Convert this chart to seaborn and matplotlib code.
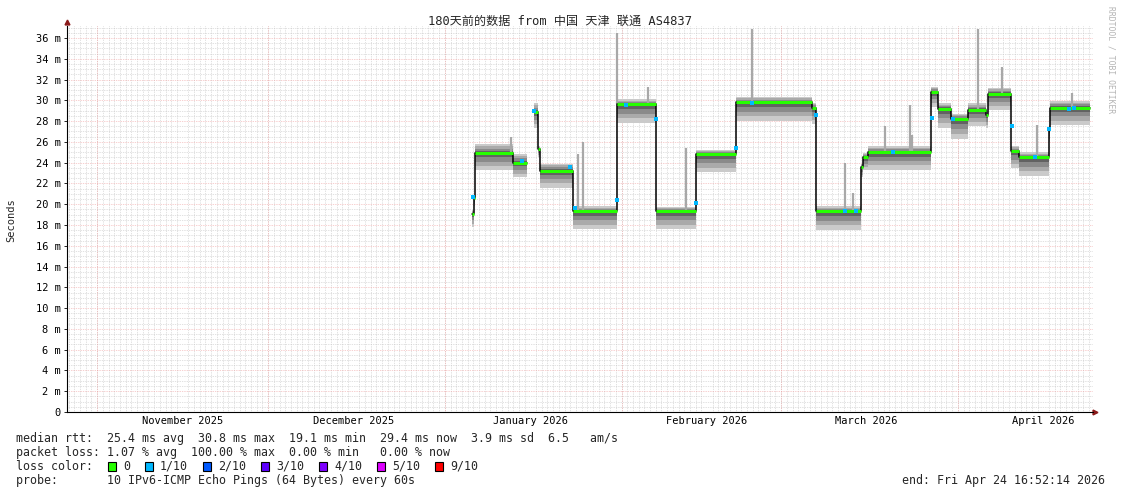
import pandas as pd
import seaborn as sns
import matplotlib.pyplot as plt
import matplotlib.dates as mdates
from matplotlib.ticker import MultipleLocator, FixedLocator
from matplotlib.patches import Rectangle

# ---- data ----
t_start = pd.Timestamp("2025-10-26 16:52:14")
t_end = pd.Timestamp("2026-04-24 16:52:14")

seg_start = pd.to_datetime([
    "2026-01-05 18:00", "2026-01-06 02:30", "2026-01-06 06:40", "2026-01-12 22:50",
    "2026-01-16 15:00", "2026-01-17 10:00", "2026-01-17 16:20", "2026-01-23 11:20",
    "2026-01-31 04:30", "2026-02-07 01:00", "2026-02-14 01:00", "2026-02-21 01:40",
    "2026-03-06 09:30", "2026-03-07 02:00", "2026-03-15 00:00", "2026-03-15 08:00",
    "2026-03-16 05:00", "2026-03-27 07:00", "2026-03-28 12:00", "2026-03-30 19:00",
    "2026-04-02 19:00", "2026-04-05 22:00", "2026-04-06 07:00", "2026-04-10 07:00",
    "2026-04-11 17:00", "2026-04-17 00:00", "2026-04-17 03:30",
])
seg_end = pd.to_datetime([
    "2026-01-06 02:30", "2026-01-06 06:40", "2026-01-12 22:50", "2026-01-15 09:40",
    "2026-01-17 10:00", "2026-01-17 16:20", "2026-01-23 11:20", "2026-01-31 04:30",
    "2026-02-07 01:00", "2026-02-14 01:00", "2026-02-21 01:40", "2026-03-06 09:30",
    "2026-03-07 02:00", "2026-03-15 00:00", "2026-03-15 08:00", "2026-03-16 05:00",
    "2026-03-27 07:00", "2026-03-28 12:00", "2026-03-30 19:00", "2026-04-02 19:00",
    "2026-04-05 22:00", "2026-04-06 07:00", "2026-04-10 07:00", "2026-04-11 17:00",
    "2026-04-17 00:00", "2026-04-17 03:30", "2026-04-24 04:50",
])
seg_run = [0, 0, 0, 0, 1, 1, 1, 1, 1, 1, 1, 1, 1, 1, 1, 1, 1, 1, 1, 1, 1, 1, 1, 1, 1, 1, 1]
seg_median = [19.1, 20.6, 24.9, 24.0, 28.9, 25.3, 23.2, 19.3, 29.6, 19.3, 24.8, 29.8,
              29.3, 19.3, 23.6, 24.5, 25.0, 30.8, 29.2, 28.2, 29.1, 28.6, 30.6, 25.1,
              24.5, 27.2, 29.3]
seg_smoke_lo = [1.3, 0.8, 1.6, 1.4, 1.6, 0.8, 1.6, 1.7, 1.8, 1.7, 1.7, 1.8,
                1.6, 1.8, 1.0, 1.2, 1.7, 1.4, 1.9, 1.9, 1.6, 1.3, 1.5, 1.6,
                1.8, 1.2, 1.7]
seg_smoke_hi = [0.3, 0.3, 0.9, 0.8, 0.8, 0.3, 0.7, 0.5, 0.5, 0.4, 0.4, 0.5,
                0.4, 0.5, 0.3, 0.4, 0.6, 0.5, 0.5, 0.5, 0.6, 0.4, 0.6, 0.5,
                0.5, 0.4, 0.6]

spike_time = pd.to_datetime([
    "2026-01-12 14:00", "2026-01-24 08:00", "2026-01-25 05:00", "2026-01-31 06:00",
    "2026-02-05 14:00", "2026-02-12 07:00", "2026-02-23 21:00", "2026-03-12 05:00",
    "2026-03-13 14:00", "2026-03-19 05:00", "2026-03-23 14:00", "2026-03-23 22:00",
    "2026-04-04 12:00", "2026-04-08 17:00", "2026-04-14 22:00", "2026-04-21 00:00",
])
spike_top = [26.5, 24.8, 26.0, 36.5, 31.3, 25.4, 36.9, 24.0,
             21.1, 27.5, 29.5, 26.7, 36.9, 33.2, 27.6, 30.7]

loss_time = pd.to_datetime([
    "2026-01-05 22:20", "2026-01-14 12:00", "2026-01-16 15:00", "2026-01-22 23:00",
    "2026-01-23 19:00", "2026-01-31 04:30", "2026-02-01 18:00", "2026-02-07 02:00",
    "2026-02-14 01:00", "2026-02-21 01:40", "2026-02-23 21:00", "2026-03-07 02:00",
    "2026-03-12 05:00", "2026-03-14 02:00", "2026-03-20 14:00", "2026-03-27 09:00",
    "2026-03-31 03:00", "2026-04-10 12:00", "2026-04-14 12:00", "2026-04-17 00:00",
    "2026-04-20 12:00", "2026-04-21 10:00",
])
loss_value = [20.7, 24.2, 29.0, 23.6, 19.6, 20.4, 29.5, 28.2, 20.1, 25.4, 29.7, 28.6,
              19.3, 19.3, 25.0, 28.3, 28.2, 27.5, 24.5, 27.2, 29.2, 29.3]

month_starts = pd.to_datetime(["2025-11-01", "2025-12-01", "2026-01-01",
                               "2026-02-01", "2026-03-01", "2026-04-01"])
month_label_at = pd.to_datetime(["2025-11-16", "2025-12-16", "2026-01-16",
                                 "2026-02-16", "2026-03-16", "2026-04-16"])
month_labels = ["November 2025", "December 2025", "January 2026",
                "February 2026", "March 2026", "April 2026"]

loss_names = ["0", "1/10", "2/10", "3/10", "4/10", "5/10", "9/10"]
loss_colors = ["#26ff00", "#00b8ff", "#0059ff", "#5e00ff", "#7e00ff", "#dd00ff", "#ff0000"]

title = "180天前的数据 from 中国 天津 联通 AS4837"
stats_lines = [
    "median rtt:  25.4 ms avg  30.8 ms max  19.1 ms min  29.4 ms now  3.9 ms sd  6.5   am/s",
    "packet loss: 1.07 % avg  100.00 % max  0.00 % min   0.00 % now",
    "loss color:",
    "probe:       10 IPv6-ICMP Echo Pings (64 Bytes) every 60s",
]
end_text = "end: Fri Apr 24 16:52:14 2026"

# ---- drawing ----
sns.set_theme(style="white")
plt.rcParams["font.family"] = ["DejaVu Sans Mono", "Noto Sans CJK SC"]

W, H = 1121, 494
fig = plt.figure(figsize=(W / 100, H / 100), dpi=100)
fig.patch.set_facecolor("white")
ax = fig.add_axes([67 / W, 1 - 412 / H, (1093 - 67) / W, (412 - 26) / H])

# smoke
smoke_shades = ["#cacaca", "#aaaaaa", "#8a8a8a", "#626262"]
smoke_frac = [1.0, 0.75, 0.5, 0.25]
for s, e, m, lo, hi in zip(seg_start, seg_end, seg_median, seg_smoke_lo, seg_smoke_hi):
    for shade, f in zip(smoke_shades, smoke_frac):
        ax.fill_between([s, e], m - lo * f, m + hi * f, color=shade, lw=0, zorder=2)

# spikes from the median up to the max ping
for t, top in zip(spike_time, spike_top):
    i = seg_start.searchsorted(t, side="right") - 1
    ax.vlines(t, seg_median[i], top, color="#a8a8a8", lw=1.6, zorder=2)

# median step line
rows = []
for r, s, e, m in zip(seg_run, seg_start, seg_end, seg_median):
    rows.append((r, s, m))
    rows.append((r, e, m))
med = pd.DataFrame(rows, columns=["run", "time", "rtt"])
sns.lineplot(data=med, x="time", y="rtt", units="run", estimator=None, sort=False,
             color="black", lw=1.1, ax=ax, zorder=3)
ax.hlines(seg_median, seg_start, seg_end, color=loss_colors[0], lw=2.2, zorder=4)
ax.scatter(loss_time, loss_value, marker="s", s=6, color=loss_colors[1], lw=0, zorder=5)

ax.set_xlim(t_start, t_end)
ax.set_ylim(0, 37.15)

# grid
grid_kw = dict(linestyle=(0, (1, 1.5)), lw=0.5)
ax.yaxis.set_major_locator(MultipleLocator(2))
ax.yaxis.set_minor_locator(MultipleLocator(0.5))
ax.xaxis.set_minor_locator(mdates.DayLocator())
ax.grid(which="minor", axis="both", color="#c4c4c4", **grid_kw)
ax.grid(which="major", axis="y", color="#f0a0a0", **grid_kw)
for m in month_starts:
    ax.axvline(m, color="#f0a0a0", zorder=1, **grid_kw)
ax.set_axisbelow(True)

ax.xaxis.set_major_locator(FixedLocator(mdates.date2num(month_label_at)))
ax.set_xticklabels(month_labels)
yt = list(range(0, 37, 2))
ax.set_yticks(yt)
ax.set_yticklabels(["0" if v == 0 else f"{v} m" for v in yt])
ax.tick_params(axis="x", which="both", length=0, pad=3, labelsize=7.5, colors="black")
ax.tick_params(axis="y", which="major", length=2.5, width=0.6, pad=2, labelsize=7.5,
               direction="out", left=True, colors="black")
ax.tick_params(axis="y", which="minor", length=0)
ax.set_xlabel("")
ax.set_ylabel("")

for side in ["top", "right"]:
    ax.spines[side].set_visible(False)
for side in ["left", "bottom"]:
    ax.spines[side].set_color("black")
    ax.spines[side].set_linewidth(0.8)
ax.plot(1.002, 0, marker=">", ms=3.5, color="#8b1a1a", transform=ax.transAxes, clip_on=False)
ax.plot(0, 1.01, marker="^", ms=3.5, color="#8b1a1a", transform=ax.transAxes, clip_on=False)

# texts
fig.text(560 / W, 1 - 21 / H, title, ha="center", va="center", fontsize=8.7)
fig.text(11 / W, 1 - 220 / H, "Seconds", rotation=90, ha="center", va="center", fontsize=7.5)
fig.text(1111 / W, 1 - 60 / H, "RRDTOOL / TOBI OETIKER", rotation=270, ha="center",
         va="center", fontsize=5.8, color="#b4b4b4")

line_y = [438, 452, 466, 480]
for y, s in zip(line_y, stats_lines):
    fig.text(16 / W, 1 - y / H, s, ha="left", va="center", fontsize=8.4)
fig.text(1105 / W, 1 - 480 / H, end_text, ha="right", va="center", fontsize=8.4)

box_x = [108, 145, 203, 261, 319, 377, 435]
for bx, name, col in zip(box_x, loss_names, loss_colors):
    fig.patches.append(Rectangle((bx / W, 1 - 471 / H), 8 / W, 9 / H, transform=fig.transFigure,
                                 facecolor=col, edgecolor="black", lw=0.8))
    fig.text((bx + 15) / W, 1 - 466 / H, name, ha="left", va="center", fontsize=8.4)

fig.savefig("out.png", dpi=100)
